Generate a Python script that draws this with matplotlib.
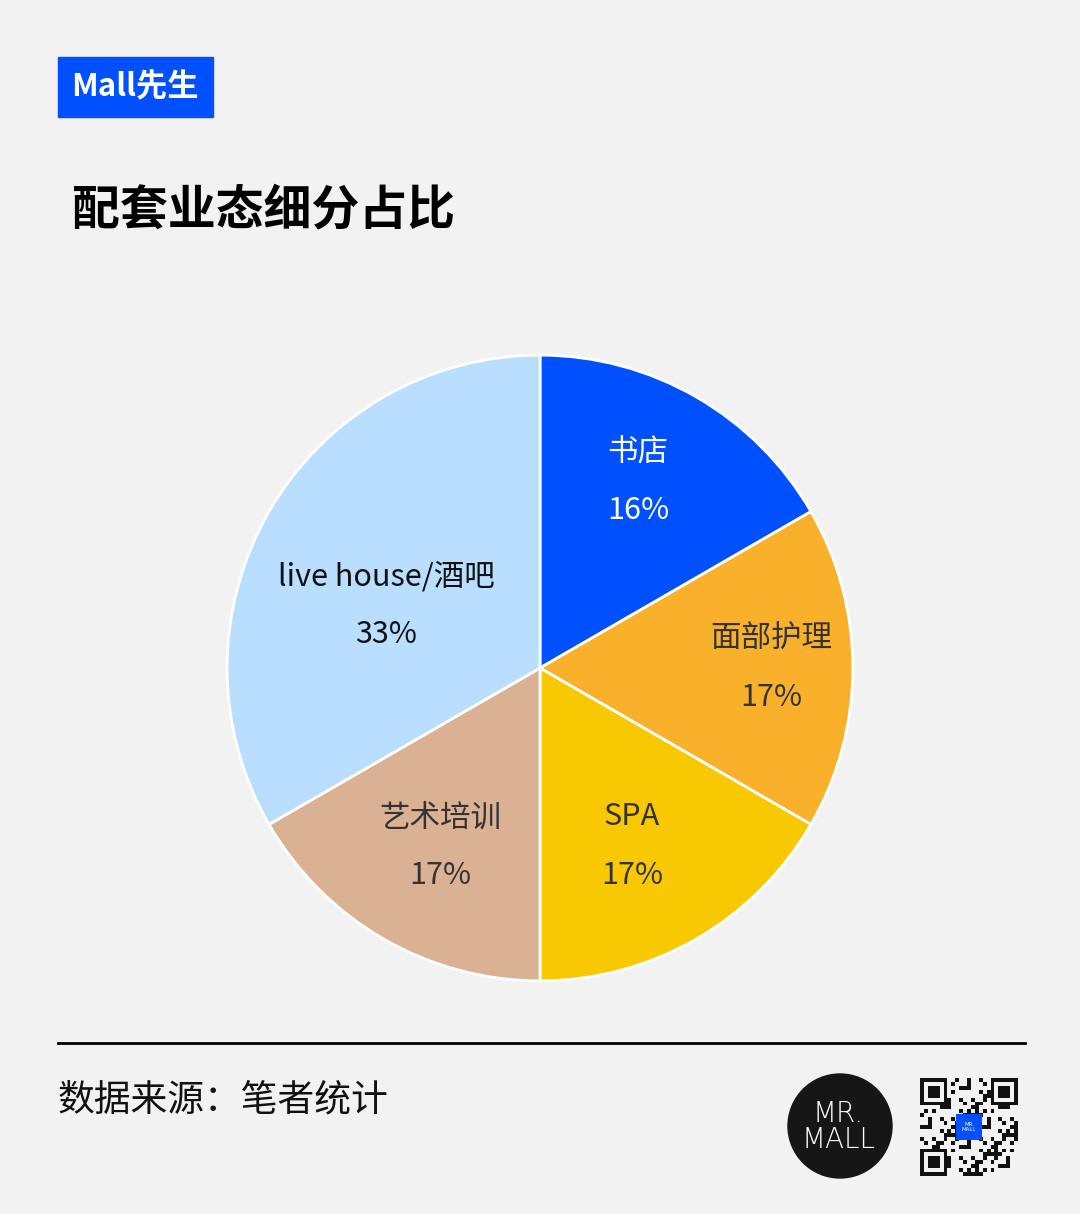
import numpy as np
import matplotlib.pyplot as plt
from matplotlib.patches import Rectangle, Circle

plt.rcParams['font.family'] = ['Noto Sans CJK SC', 'DejaVu Sans']

# data
categories = ['书店', '面部护理', 'SPA', '艺术培训', 'live house/酒吧']
counts = [1, 1, 1, 1, 2]
pct_labels = ['16%', '17%', '17%', '17%', '33%']
colors = ['#0050FF', '#F9B12C', '#F8C900', '#DBB193', '#B9DEFF']
text_colors = ['white', '#333333', '#333333', '#333333', '#111111']
label_r = [0.675, 0.74, 0.64, 0.655, 0.53]
label_shift = [2.3, 0, -2.7, 0.8, 8]  # degrees

W, H = 1080, 1214
fig = plt.figure(figsize=(W / 100, H / 100), dpi=100)
fig.patch.set_facecolor('#F2F2F2')

# pie (axes a bit larger than the circle so the white edge is not clipped)
R = 316
cx, cy = 540, 668
ax = fig.add_axes([(cx - R) / W, (H - cy - R) / H, 2 * R / W, 2 * R / H])
wedges, _ = ax.pie(counts, colors=colors, startangle=90, counterclock=False,
                   wedgeprops=dict(edgecolor='white', linewidth=2))
ax.set_xlim(-1.01, 1.01)
ax.set_ylim(-1.01, 1.01)
ax.set_aspect('equal')
ax.axis('off')

for w, name, pct, tc, r, sh in zip(wedges, categories, pct_labels, text_colors, label_r, label_shift):
    ang = np.deg2rad((w.theta1 + w.theta2) / 2 + sh)
    x, y = r * np.cos(ang), r * np.sin(ang)
    ax.text(x, y + 0.093, name, ha='center', va='center', fontsize=22, color=tc)
    ax.text(x, y - 0.093, pct, ha='center', va='center', fontsize=22, color=tc)

# header tag
fig.patches.append(Rectangle((58 / W, 1 - 117 / H), 155 / W, 60 / H,
                             transform=fig.transFigure, color='#0050FF'))
fig.text(135 / W, 1 - 87 / H, 'Mall先生', color='white', fontsize=22.5,
         fontweight='bold', ha='center', va='center')

# title
fig.text(72 / W, 1 - 210 / H, '配套业态细分占比', fontsize=34.5, fontweight='bold',
         ha='left', va='center', color='black')

# footer
fig.add_artist(plt.Line2D([58 / W, 1025 / W], [1 - 1043 / H, 1 - 1043 / H],
                          color='black', linewidth=2))
fig.text(58 / W, 1 - 1100 / H, '数据来源：笔者统计', fontsize=26.5, ha='left',
         va='center', color='#111111')

# logo
lax = fig.add_axes([0, 0, 1, 1], facecolor='none')
lax.set_xlim(0, W)
lax.set_ylim(H, 0)
lax.axis('off')
lax.add_patch(Circle((840, 1126), 52, color='#161616'))
lax.text(838, 1127, 'MR.\nMALL', color='white', fontsize=20, ha='center',
         va='center', family='DejaVu Sans', fontweight='light', linespacing=0.9)

# qr-like mark
n = 25
x0, y0, s = 920, 1078, 98 / n
for i in range(n):
    for j in range(n):
        v = (i * 7 + j * 13 + (i * j) % 5) % 3 == 0
        if v:
            lax.add_patch(Rectangle((x0 + j * s, y0 + i * s), s, s, color='#111111', lw=0))
for fx, fy in [(0, 0), (n - 7, 0), (0, n - 7)]:
    lax.add_patch(Rectangle((x0 + fx * s, y0 + fy * s), 7 * s, 7 * s, color='#F2F2F2', lw=0))
    lax.add_patch(Rectangle((x0 + fx * s, y0 + fy * s), 7 * s, 7 * s, color='#111111', lw=0))
    lax.add_patch(Rectangle((x0 + (fx + 1) * s, y0 + (fy + 1) * s), 5 * s, 5 * s, color='#F2F2F2', lw=0))
    lax.add_patch(Rectangle((x0 + (fx + 2) * s, y0 + (fy + 2) * s), 3 * s, 3 * s, color='#111111', lw=0))
lax.add_patch(Rectangle((956, 1114), 26, 26, color='#0050FF', lw=0))
lax.text(969, 1127, 'MR.\nMALL', color='white', fontsize=4, ha='center', va='center',
         family='DejaVu Sans', linespacing=0.9)

fig.savefig('out.png', dpi=100, facecolor=fig.get_facecolor())
